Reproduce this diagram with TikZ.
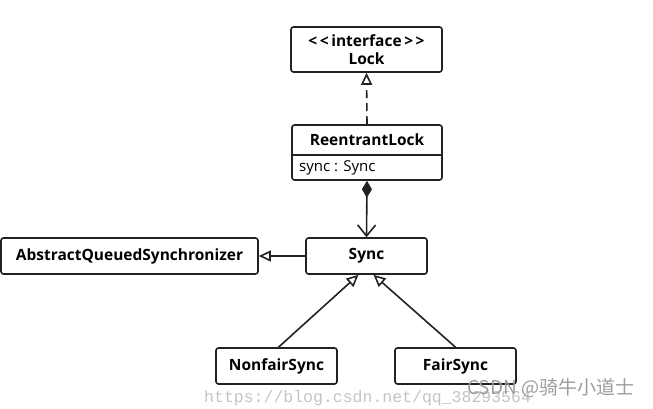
\documentclass[tikz,border=0pt]{standalone}
\usepackage{fontspec}
\setmainfont{Open Sans}
\newfontfamily\cjk{Noto Sans CJK SC}
\newfontfamily\wmfont{Liberation Mono}
\usetikzlibrary{positioning, arrows.meta}
\definecolor{UmlLine}{HTML}{222222}
\definecolor{MarkGray}{HTML}{C4C4C4}

\tikzset{
  umlbox/.style={draw=UmlLine, line width=1.6pt, rounded corners=2.5pt, fill=white, font=\bfseries\fontsize{15.5}{18}\selectfont, align=center, inner sep=0pt},
  conn/.style={draw=UmlLine, line width=1.6pt},
  realize/.style={conn, dash pattern=on 8pt off 5pt, -{Triangle[open, length=12pt, width=11pt]}},
  inherit/.style={conn, -{Triangle[open, length=12pt, width=11pt]}},
  compose/.style={conn, {Diamond[length=17pt, width=10pt]}-{Straight Barb[length=11pt, width=18pt]}}
}

\begin{document}
\begin{tikzpicture}[x=1pt, y=-1pt]
  \useasboundingbox (0,0) rectangle (653,408);

  % Classes
  \node[umlbox, minimum width=151pt, minimum height=45pt] (lock) at (366.5,49.5) {<\,<\,interface\,>\,>\\Lock};
  \node[umlbox, minimum width=150pt, minimum height=55pt] (rl) at (367,152.5) {};
  \node[font=\bfseries\fontsize{15.5}{18}\selectfont, inner sep=0pt] (rlname) at (367,140) {ReentrantLock};
  \node[font=\fontsize{15}{18}\selectfont, inner sep=0pt, anchor=west] (rlattr) at (299,168) {sync : Sync};
  \draw[conn, line width=1.1pt] (rl.west |- 0,155) -- (rl.east |- 0,155);
  \node[umlbox, minimum width=257pt, minimum height=36pt] (aqs) at (129.5,256) {AbstractQueuedSynchronizer};
  \node[umlbox, minimum width=121pt, minimum height=36pt] (sync) at (366.5,256) {Sync};
  \node[umlbox, minimum width=121pt, minimum height=36pt] (nonfair) at (276.5,366) {NonfairSync};
  \node[umlbox, minimum width=121pt, minimum height=36pt] (fair) at (455.5,366) {FairSync};

  % Relations
  \draw[realize] (rl.north) -- (lock.south);
  \draw[compose] (rl.south) -- (sync.north);
  \draw[inherit] (sync.west) -- (aqs.east);
  \draw[inherit] (nonfair.north) ++(2,0) -- ([xshift=-8pt]sync.south);
  \draw[inherit] (fair.north) -- ([xshift=7pt]sync.south);

  % Watermarks
  \node[MarkGray, font=\wmfont\fontsize{16.5}{18}\selectfont, anchor=west, inner sep=0pt] (url) at (204,398) {https://blog.csdn.net/qq\_38293564};
  \node[MarkGray!80!black, font=\cjk\fontsize{19}{21}\selectfont, anchor=west, inner sep=0pt] (csdn) at (467,388) {CSDN @骑牛小道士};
\end{tikzpicture}
\end{document}
